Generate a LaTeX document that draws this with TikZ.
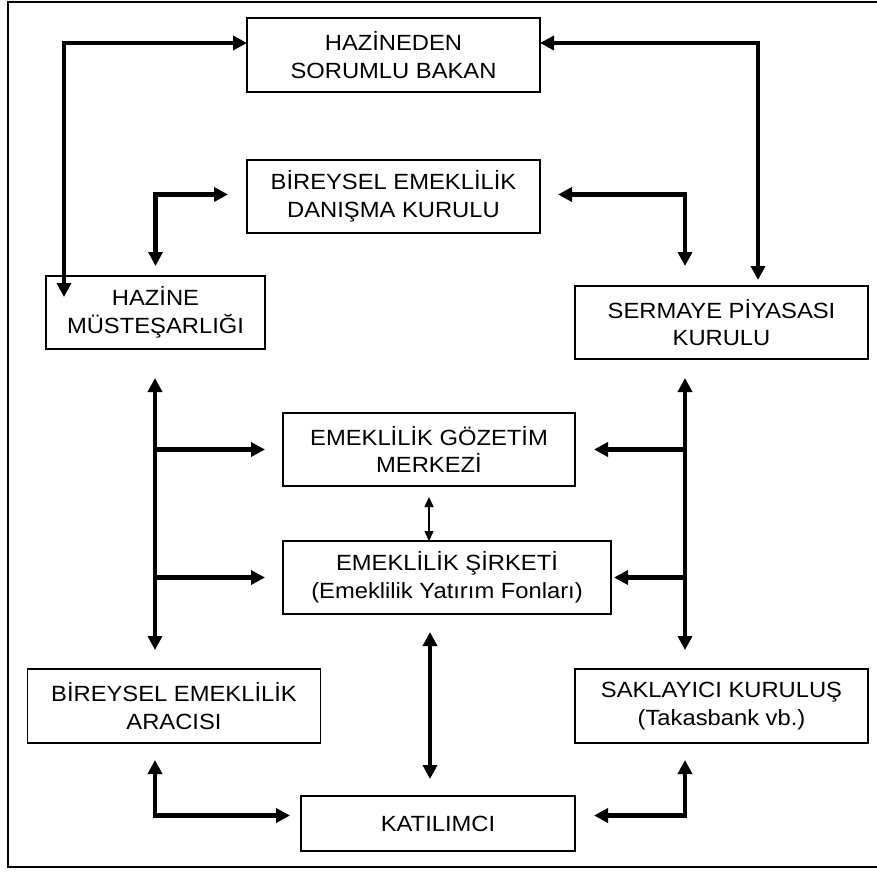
\documentclass[tikz,border=0pt]{standalone}
\usepackage{fontspec}
\setmainfont{Liberation Sans}[FakeStretch=1.08]
\usetikzlibrary{arrows.meta}
\begin{document}
\begin{tikzpicture}[x=1pt,y=-1pt,
  box/.style={draw,line width=1.2pt,inner sep=0pt,outer sep=0pt,align=center,font=\fontsize{22}{27.7}\selectfont},
  big/.style={line width=4.2pt,{Triangle[length=14pt,width=14pt]}-{Triangle[length=14pt,width=14pt]}},
  bigr/.style={line width=4.2pt,-{Triangle[length=14pt,width=14pt]}},
  small/.style={line width=1.4pt,{Triangle[length=10pt,width=9pt]}-{Triangle[length=10pt,width=9pt]}}]
\useasboundingbox (0,0) rectangle (877,873);
\draw[line width=2pt] (878,2)--(8,2)--(8,866.5)--(878,866.5);
\node[box,minimum width=293pt,minimum height=74pt] (bakan) at (393.5,55) {HAZİNEDEN\\SORUMLU BAKAN};
\node[box,minimum width=293pt,minimum height=73pt] (danisma) at (393.5,196.5) {BİREYSEL EMEKLİLİK\\DANIŞMA KURULU};
\node[box,minimum width=219pt,minimum height=73pt] (hm) at (155.5,312.5) {HAZİNE\\MÜSTEŞARLIĞI};
\node[box,minimum width=293pt,minimum height=73pt] (spk) at (721.5,322.5) {SERMAYE PİYASASI\\KURULU};
\node[box,minimum width=292pt,minimum height=73pt] (gozetim) at (429,449.5) {EMEKLİLİK GÖZETİM\\MERKEZİ};
\node[box,minimum width=328pt,minimum height=73pt] (sirket) at (447,577.5) {EMEKLİLİK ŞİRKETİ\\(Emeklilik Yatırım Fonları)};
\node[box,minimum width=293pt,minimum height=74pt] (bea) at (174,706) {BİREYSEL EMEKLİLİK\\ARACISI};
\node[box,minimum width=293pt,minimum height=74pt] (sak) at (721.5,706) {SAKLAYICI KURULUŞ\\(Takasbank vb.)};
\node[box,minimum width=274pt,minimum height=55pt] (kat) at (438,823.5) {KATILIMCI};
\coordinate (hmtip) at (64,297);
\coordinate (spktip) at (758,280);
\coordinate (spkup) at (685,266);
\coordinate (lt) at (155,378);
\coordinate (lb) at (155,650);
\coordinate (rt) at (685,378);
\coordinate (rb) at (685,650);
\coordinate (ct) at (430,632);
\coordinate (cb) at (430,779);
\coordinate (bl) at (155,760);
\coordinate (br) at (685,760);
\draw[big] ([yshift=12pt]bakan.west) -| (hmtip);
\draw[big] ([yshift=12pt]bakan.east) -| (spktip);
\draw[big] ([xshift=-19pt,yshift=2pt]danisma.west) -| ([yshift=10pt]hm.north);
\draw[big] ([xshift=18pt,yshift=2pt]danisma.east) -| (spkup);
\draw[big] (lt) -- (lb);
\draw[big] (rt) -- (rb);
\draw[bigr] (lt |- gozetim.west) -- ([xshift=-18pt]gozetim.west);
\draw[bigr] (lt |- sirket.west) -- ([xshift=-18pt]sirket.west);
\draw[bigr] (rt |- gozetim.east) -- ([xshift=19pt]gozetim.east);
\draw[bigr] (rt |- sirket.east) -- ([xshift=3pt]sirket.east);
\draw[small] ([yshift=-11pt]gozetim.south) -- (gozetim.south |- sirket.north);
\draw[big] (ct) -- (cb);
\draw[big] (bl) |- ([xshift=-11pt,yshift=8pt]kat.west);
\draw[big] (br) |- ([xshift=19pt,yshift=8pt]kat.east);
\end{tikzpicture}
\end{document}
